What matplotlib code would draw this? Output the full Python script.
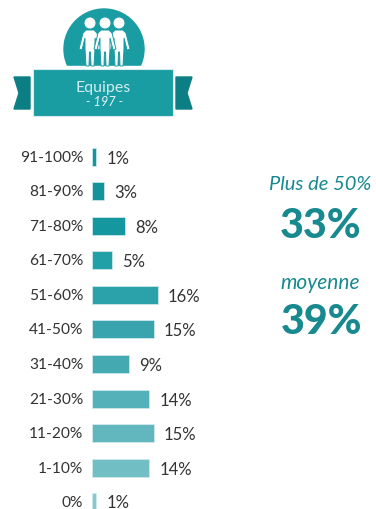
import matplotlib
matplotlib.use('Agg')
import matplotlib.pyplot as plt
from matplotlib.patches import Circle, Polygon, Rectangle

categories = ['91-100%', '81-90%', '71-80%', '61-70%', '51-60%', '41-50%',
              '31-40%', '21-30%', '11-20%', '1-10%', '0%']
values = [1, 3, 8, 5, 16, 15, 9, 14, 15, 14, 1]
bar_colors = ['#13969e', '#14939b', '#15979f', '#22a0a8', '#2ba1a9', '#39a4ad',
              '#45a9b1', '#55b1b9', '#62b7be', '#72bec5', '#85c9cf']

plt.rcParams['font.family'] = ['Lato', 'DejaVu Sans']

W, H = 376, 510
TEAL = '#1a9ca3'
DARK_TEAL = '#0c7f85'
TEXT_TEAL = '#17898f'

fig = plt.figure(figsize=(W / 100, H / 100), dpi=100)

# Icon and side text, in pixel coordinates
deco = fig.add_axes([0, 0, 1, 1])
deco.set_xlim(0, W)
deco.set_ylim(H, 0)
deco.axis('off')


def person(cx, top):
    # one white figure: head plus body outline
    deco.add_patch(Circle((cx, top), 4.8, color='white', zorder=3))
    pts = [(-4, 7), (4, 7), (7, 10), (11, 26), (8, 27), (5, 15), (5, 26), (4, 43),
           (1, 43), (0.5, 29), (-0.5, 29), (-1, 43), (-4, 43), (-5, 26), (-5, 15),
           (-8, 27), (-11, 26), (-7, 10)]
    deco.add_patch(Polygon([(cx + x, top + y) for x, y in pts], closed=True,
                           facecolor='white', edgecolor=TEAL, linewidth=0.7, zorder=3))


deco.add_patch(Circle((104, 50), 40, color=TEAL, zorder=1))
deco.add_patch(Rectangle((20, 67), 170, 50, color='white', zorder=1.5))
person(90, 24)
person(119, 24)
person(105, 24)
deco.add_patch(Rectangle((33, 70), 140, 47, facecolor=TEAL, edgecolor='#d5ecee',
                         linewidth=0.8, zorder=4))
deco.add_patch(Polygon([(14, 78), (30, 78), (30, 110), (14, 110), (19, 94)],
                       closed=True, color=DARK_TEAL, zorder=2))
deco.add_patch(Polygon([(176, 78), (192, 78), (187, 94), (192, 110), (176, 110)],
                       closed=True, color=DARK_TEAL, zorder=2))
deco.text(103, 88, 'Equipes', color='#cfeef0', fontsize=11.5, ha='center', va='center', zorder=5)
deco.text(105, 102, '- 197 -', color='#e4f5f6', fontsize=9.2, style='italic',
          ha='center', va='center', zorder=5)

deco.text(320, 185, 'Plus de 50%', color=TEXT_TEAL, fontsize=14.5, style='italic',
          ha='center', va='center')
deco.text(321, 226, '33%', color=TEXT_TEAL, fontsize=29.5, fontweight=900,
          ha='center', va='center')
deco.text(320, 283, 'moyenne', color=TEXT_TEAL, fontsize=15, style='italic',
          ha='center', va='center')
deco.text(321, 322, '39%', color=TEXT_TEAL, fontsize=29.5, fontweight=900,
          ha='center', va='center')

# Bars
x0, px_per_pct = 91.7, 4.125
y0, step = 157.7, 34.55
ax = fig.add_axes([x0 / W, 0, 1 - x0 / W, 1])
ax.patch.set_alpha(0)
ax.set_xlim(0, (W - x0) / px_per_pct)
ax.set_ylim((H - y0) / step, -y0 / step)
ax.barh(range(len(values)), values, height=0.52, color=bar_colors,
        edgecolor='#d5ecee', linewidth=0.5)
for i, v in enumerate(values):
    # last label sits right at the bottom edge, so it stays unshifted
    dy = 0 if i == len(values) - 1 else -0.7
    ax.annotate(f'{v}%', (v, i), xytext=(7.4, dy), textcoords='offset points',
                va='center', ha='left', fontsize=12, color='#333333')
ax.set_yticks(range(len(categories)))
ax.set_yticklabels(categories, fontsize=11.2, color='#333333', va='center')
ax.tick_params(axis='y', length=0, pad=6)
ax.set_xticks([])
for s in ax.spines.values():
    s.set_visible(False)

fig.savefig('out.png', dpi=100)
